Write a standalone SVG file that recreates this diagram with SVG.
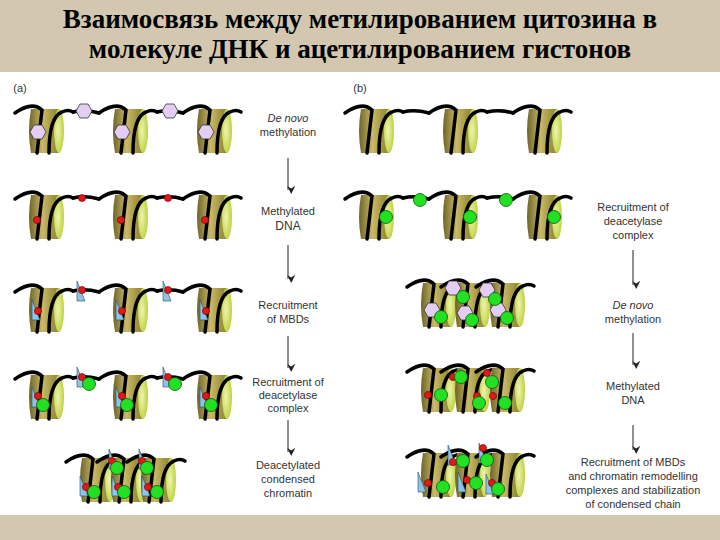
<svg xmlns="http://www.w3.org/2000/svg" width="720" height="540" viewBox="0 0 720 540">
<defs>
<linearGradient id="cyl" x1="0" y1="0" x2="1" y2="0">
<stop offset="0" stop-color="#6e6428"/><stop offset="0.45" stop-color="#c9b968"/><stop offset="0.8" stop-color="#a09440"/><stop offset="1" stop-color="#8c8434"/>
</linearGradient>
<radialGradient id="face" cx="0.4" cy="0.5" r="0.6">
<stop offset="0" stop-color="#eef4b0"/><stop offset="1" stop-color="#bcd03c"/>
</radialGradient>
<g id="nuc">
<path d="M-15,-22 L13,-22 L13,22 L-15,22 Q-19,0 -15,-22Z" fill="url(#cyl)"/>
<ellipse cx="13" cy="0" rx="5" ry="22" fill="url(#face)"/>
<path d="M-31,-18 Q-14,-30 -4,-21 L-9,22" class="dna"/>
<path d="M3,22 Q3,-14 16,-19 Q22,-22 27,-19" class="dna"/>
</g>
<polygon id="flag" points="0,-10 0,10 8,10" fill="#8ec4e6" stroke="#2a4a6a" stroke-width="0.6"/>
<polygon id="hex" points="-4,-7 4,-7 8,0 4,7 -4,7 -8,0" fill="#e4cdf2" stroke="#333" stroke-width="0.8"/>
<circle id="red" r="3.6" fill="#e01818" stroke="#600" stroke-width="0.6"/>
<circle id="grn" r="6.5" fill="#22e022" stroke="#0a5a0a" stroke-width="0.8"/>
<marker id="ah" viewBox="0 0 10 10" refX="5" refY="9" markerWidth="8" markerHeight="8" orient="auto-start-reverse" markerUnits="userSpaceOnUse">
<path d="M0,0 L10,5 L0,10 L3,5Z" fill="#222"/>
</marker>
</defs>
<style>
.dna{fill:none;stroke:#000;stroke-width:3.5;stroke-linecap:round}
.lbl{font-family:"Liberation Sans",Arial,sans-serif;font-size:11px;fill:#333;text-anchor:middle}
.it{font-style:italic}
.ttl{font-family:"Liberation Serif","Times New Roman",serif;font-size:27px;font-weight:bold;fill:#000;text-anchor:middle}
.arr{stroke:#222;stroke-width:1;fill:none}
</style>
<rect width="720" height="540" fill="#d3c8af"/>
<rect x="0" y="72" width="720" height="443" fill="#fff"/>
<text class="ttl" x="360" y="28">Взаимосвязь между метилированием цитозина в</text>
<text class="ttl" x="360" y="58">молекуле ДНК и ацетилированием гистонов</text>
<text class="lbl" x="20" y="92">(a)</text>
<text class="lbl" x="360" y="92">(b)</text>

<g id="connectors">
<path class="arr" d="M288,158 V190" marker-end="url(#ah)"/>
<path class="arr" d="M288,245 V279" marker-end="url(#ah)"/>
<path class="arr" d="M288,336 V368" marker-end="url(#ah)"/>
<path class="arr" d="M288,420 V452" marker-end="url(#ah)"/>
<path class="arr" d="M633,250 V285" marker-end="url(#ah)"/>
<path class="arr" d="M633,333 V365" marker-end="url(#ah)"/>
<path class="arr" d="M633,425 V450" marker-end="url(#ah)"/>
</g>

<g id="a-row1">
<path class="dna" d="M73,112 Q85,109 99,113 M157,112 Q170,109 183,113"/>
<use href="#nuc" x="46" y="131"/><use href="#nuc" x="130" y="131"/><use href="#nuc" x="214" y="131"/>
<use href="#hex" x="38" y="132"/><use href="#hex" x="122" y="132"/><use href="#hex" x="206" y="132"/>
<use href="#hex" x="84" y="111"/><use href="#hex" x="170" y="111"/>
</g>
<g id="a-row2">
<path class="dna" d="M73,198 Q85,195 99,199 M157,198 Q170,195 183,199"/>
<use href="#nuc" x="46" y="217"/><use href="#nuc" x="130" y="217"/><use href="#nuc" x="214" y="217"/>
<use href="#red" x="37" y="220"/><use href="#red" x="121" y="220"/><use href="#red" x="205" y="220"/>
<use href="#red" x="82" y="198"/><use href="#red" x="168" y="198"/>
</g>
<g id="a-row3">
<path class="dna" d="M73,291 Q85,288 99,292 M157,291 Q170,288 183,292"/>
<use href="#nuc" x="46" y="310"/><use href="#nuc" x="130" y="310"/><use href="#nuc" x="214" y="310"/>
<use href="#flag" x="32" y="310"/><use href="#flag" x="116" y="310"/><use href="#flag" x="200" y="310"/>
<use href="#red" x="38" y="311"/><use href="#red" x="122" y="311"/><use href="#red" x="206" y="311"/>
<use href="#flag" x="77" y="291"/><use href="#flag" x="163" y="291"/>
<use href="#red" x="82" y="290"/><use href="#red" x="168" y="290"/>
</g>
<g id="a-row4">
<path class="dna" d="M73,378 Q85,375 99,379 M157,378 Q170,375 183,379"/>
<use href="#nuc" x="46" y="397"/><use href="#nuc" x="130" y="397"/><use href="#nuc" x="214" y="397"/>
<use href="#flag" x="32" y="397"/><use href="#flag" x="116" y="397"/><use href="#flag" x="200" y="397"/>
<use href="#red" x="38" y="396"/><use href="#red" x="122" y="396"/><use href="#red" x="206" y="396"/>
<use href="#grn" x="43" y="405"/><use href="#grn" x="127" y="405"/><use href="#grn" x="211" y="405"/>
<use href="#flag" x="77" y="377"/><use href="#flag" x="163" y="377"/>
<use href="#red" x="82" y="377"/><use href="#red" x="168" y="377"/>
<use href="#grn" x="89" y="384"/><use href="#grn" x="175" y="384"/>
</g>
<g id="a-row5">
<use href="#nuc" x="97" y="480"/><use href="#nuc" x="128" y="480"/><use href="#nuc" x="158" y="480"/>
<use href="#flag" x="109" y="459"/><use href="#flag" x="139" y="459"/>
<use href="#red" x="112" y="461"/><use href="#red" x="142" y="461"/>
<use href="#grn" x="117" y="468"/><use href="#grn" x="147" y="468"/>
<use href="#flag" x="80" y="486"/><use href="#flag" x="112" y="486"/><use href="#flag" x="142" y="486"/>
<use href="#red" x="86" y="487"/><use href="#red" x="118" y="487"/><use href="#red" x="148" y="487"/>
<use href="#grn" x="94" y="492"/><use href="#grn" x="124" y="492"/><use href="#grn" x="157" y="492"/>
</g>

<g id="b-row1">
<path class="dna" d="M403,112 Q415,109 429,113 M487,112 Q500,109 513,113"/>
<use href="#nuc" x="376" y="131"/><use href="#nuc" x="460" y="131"/><use href="#nuc" x="544" y="131"/>
</g>
<g id="b-row2">
<path class="dna" d="M403,198 Q415,195 429,199 M487,198 Q500,195 513,199"/>
<use href="#nuc" x="376" y="217"/><use href="#nuc" x="460" y="217"/><use href="#nuc" x="544" y="217"/>
<use href="#grn" x="386" y="217"/><use href="#grn" x="470" y="217"/><use href="#grn" x="554" y="217"/>
<use href="#grn" x="420" y="200"/><use href="#grn" x="506" y="200"/>
</g>
<g id="b-row3">
<use href="#nuc" x="438" y="305"/><use href="#nuc" x="472" y="305"/><use href="#nuc" x="507" y="305"/>
<use href="#hex" x="453" y="288"/><use href="#hex" x="432" y="310"/><use href="#hex" x="465" y="313"/><use href="#hex" x="487" y="290"/><use href="#hex" x="498" y="310"/>
<use href="#grn" x="463" y="297"/><use href="#grn" x="441" y="317"/><use href="#grn" x="472" y="320"/><use href="#grn" x="495" y="299"/><use href="#grn" x="507" y="318"/>
</g>
<g id="b-row4">
<use href="#nuc" x="438" y="390"/><use href="#nuc" x="472" y="390"/><use href="#nuc" x="507" y="390"/>
<use href="#red" x="428" y="395"/><use href="#red" x="453" y="377"/><use href="#red" x="487" y="373"/><use href="#red" x="477" y="396"/><use href="#red" x="493" y="396"/>
<use href="#grn" x="461" y="377"/><use href="#grn" x="441" y="395"/><use href="#grn" x="492" y="382"/><use href="#grn" x="479" y="403"/><use href="#grn" x="505" y="403"/>
</g>
<g id="b-row5">
<use href="#nuc" x="438" y="475"/><use href="#nuc" x="472" y="475"/><use href="#nuc" x="507" y="475"/>
<use href="#flag" x="448" y="455"/><use href="#flag" x="479" y="453"/><use href="#flag" x="418" y="482"/><use href="#flag" x="458" y="482"/><use href="#flag" x="486" y="484"/>
<use href="#red" x="428" y="483"/><use href="#red" x="453" y="462"/><use href="#red" x="467" y="480"/><use href="#red" x="492" y="483"/><use href="#red" x="483" y="448"/>
<use href="#grn" x="463" y="461"/><use href="#grn" x="443" y="487"/><use href="#grn" x="487" y="460"/><use href="#grn" x="476" y="483"/><use href="#grn" x="498" y="489"/>
</g>

<g id="labels-a">
<text class="lbl it" x="288" y="122">De novo</text><text class="lbl" x="288" y="136">methylation</text>
<text class="lbl" x="288" y="215">Methylated</text><text class="lbl" x="288" y="230" style="font-size:12px">DNA</text>
<text class="lbl" x="288" y="309">Recruitment</text><text class="lbl" x="288" y="323">of MBDs</text>
<text class="lbl" x="288" y="386">Recruitment of</text><text class="lbl" x="288" y="399">deacetylase</text><text class="lbl" x="288" y="412">complex</text>
<text class="lbl" x="288" y="469">Deacetylated</text><text class="lbl" x="288" y="483">condensed</text><text class="lbl" x="288" y="497">chromatin</text>
</g>
<g id="labels-b">
<text class="lbl" x="633" y="211">Recruitment of</text><text class="lbl" x="633" y="225">deacetylase</text><text class="lbl" x="633" y="239">complex</text>
<text class="lbl it" x="633" y="309">De novo</text><text class="lbl" x="633" y="323">methylation</text>
<text class="lbl" x="633" y="390">Methylated</text><text class="lbl" x="633" y="404">DNA</text>
<text class="lbl" x="633" y="466">Recruitment of MBDs</text><text class="lbl" x="633" y="480">and chromatin remodelling</text><text class="lbl" x="633" y="494">complexes and stabilization</text><text class="lbl" x="633" y="508">of condensed chain</text>
</g>
</svg>
